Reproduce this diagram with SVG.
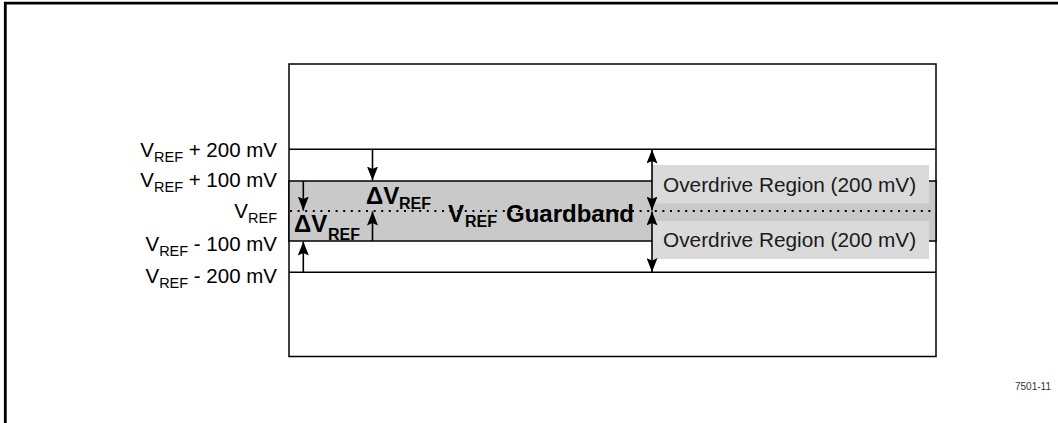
<svg xmlns="http://www.w3.org/2000/svg" width="1058" height="423" viewBox="0 0 1058 423">
  <defs>
    <style>
      .lbl { font-family: "Liberation Sans", Arial, sans-serif; font-size: 20.5px; fill: #000; }
      .sub { font-size: 14.5px; }
      .b { font-family: "Liberation Sans", Arial, sans-serif; font-size: 24px; font-weight: bold; fill: #000; }
      .bsub { font-size: 16px; }
      .od { font-family: "Liberation Sans", Arial, sans-serif; font-size: 20.8px; fill: #1a1a1a; }
      .ln { stroke: #000; stroke-width: 1.5; fill: none; }
      .arr { stroke: #000; stroke-width: 1.6; fill: none; marker-end: url(#ah); }
      .arr2 { stroke: #000; stroke-width: 1.6; fill: none; marker-end: url(#ah); marker-start: url(#ahs); }
    </style>
    <marker id="ah" viewBox="0 0 14 11" refX="14" refY="5.5" markerWidth="14" markerHeight="11" markerUnits="userSpaceOnUse" orient="auto">
      <path d="M0,0 L14,5.5 L0,11 L2.5,5.5 Z" fill="#000"/>
    </marker>
    <marker id="ahs" viewBox="0 0 14 11" refX="0" refY="5.5" markerWidth="14" markerHeight="11" markerUnits="userSpaceOnUse" orient="auto">
      <path d="M14,0 L0,5.5 L14,11 L11.5,5.5 Z" fill="#000"/>
    </marker>
  </defs>

  <rect width="1058" height="423" fill="#fff"/>
  <path d="M5.3,423 V3.2 H1058" fill="none" stroke="#000" stroke-width="2.8"/>

  <g id="frame">
    <rect x="289" y="64" width="647" height="292.5" fill="#fff" stroke="#000" stroke-width="1.5"/>
  </g>

  <g id="guardband">
    <rect x="289" y="181" width="647" height="60" fill="#c9c9c9" stroke="#000" stroke-width="1.5"/>
  </g>

  <g id="levels">
    <line class="ln" x1="289" y1="149.3" x2="936" y2="149.3"/>
    <line class="ln" x1="289" y1="272.3" x2="936" y2="272.3"/>
    <line x1="290" y1="211" x2="936" y2="211" stroke="#000" stroke-width="1.8" stroke-dasharray="2 5.6"/>
  </g>

  <g id="overdrive-upper">
    <rect x="652" y="165" width="277" height="38.5" fill="#dadada"/>
    <text class="od" x="663" y="191.5">Overdrive Region (200 mV)</text>
  </g>
  <g id="overdrive-lower">
    <rect x="652" y="221" width="277" height="38" fill="#dadada"/>
    <text class="od" x="663" y="247">Overdrive Region (200 mV)</text>
  </g>

  <g id="connectors">
    <line class="arr" x1="303.3" y1="181" x2="303.3" y2="210.5"/>
    <line class="arr" x1="303.3" y1="273" x2="303.3" y2="241.5"/>
    <line class="arr" x1="372.5" y1="149.3" x2="372.5" y2="180.5"/>
    <line class="arr" x1="372.5" y1="241" x2="372.5" y2="211.5"/>
    <line class="arr2" x1="652" y1="149.5" x2="652" y2="210.5"/>
    <line class="arr2" x1="652" y1="211.5" x2="652" y2="272"/>
  </g>

  <g id="labels">
    <text class="lbl" x="277" y="157" text-anchor="end">V<tspan class="sub" dy="5">REF</tspan><tspan dy="-5"> + 200 mV</tspan></text>
    <text class="lbl" x="277" y="187" text-anchor="end">V<tspan class="sub" dy="5">REF</tspan><tspan dy="-5"> + 100 mV</tspan></text>
    <text class="lbl" x="277" y="217.6" text-anchor="end">V<tspan class="sub" dy="5">REF</tspan></text>
    <text class="lbl" x="277" y="251" text-anchor="end">V<tspan class="sub" dy="5">REF</tspan><tspan dy="-5"> - 100 mV</tspan></text>
    <text class="lbl" x="277" y="282.5" text-anchor="end">V<tspan class="sub" dy="5">REF</tspan><tspan dy="-5"> - 200 mV</tspan></text>
  </g>

  <g id="delta-left">
    <text class="b" x="294" y="232">ΔV<tspan class="bsub" x="328" dy="8">REF</tspan></text>
  </g>
  <g id="delta-mid">
    <text class="b" x="366" y="204">ΔV<tspan class="bsub" x="399" dy="5">REF</tspan></text>
  </g>
  <g id="guardband-label">
    <text class="b" x="448" y="222">V<tspan class="bsub" x="465" dy="5">REF</tspan><tspan x="506" dy="-5">Guardband</tspan></text>
  </g>

  <g id="figure-number">
    <text x="1015" y="390" font-family="Liberation Sans, Arial, sans-serif" font-size="10px" fill="#333">7501-11</text>
  </g>
</svg>
